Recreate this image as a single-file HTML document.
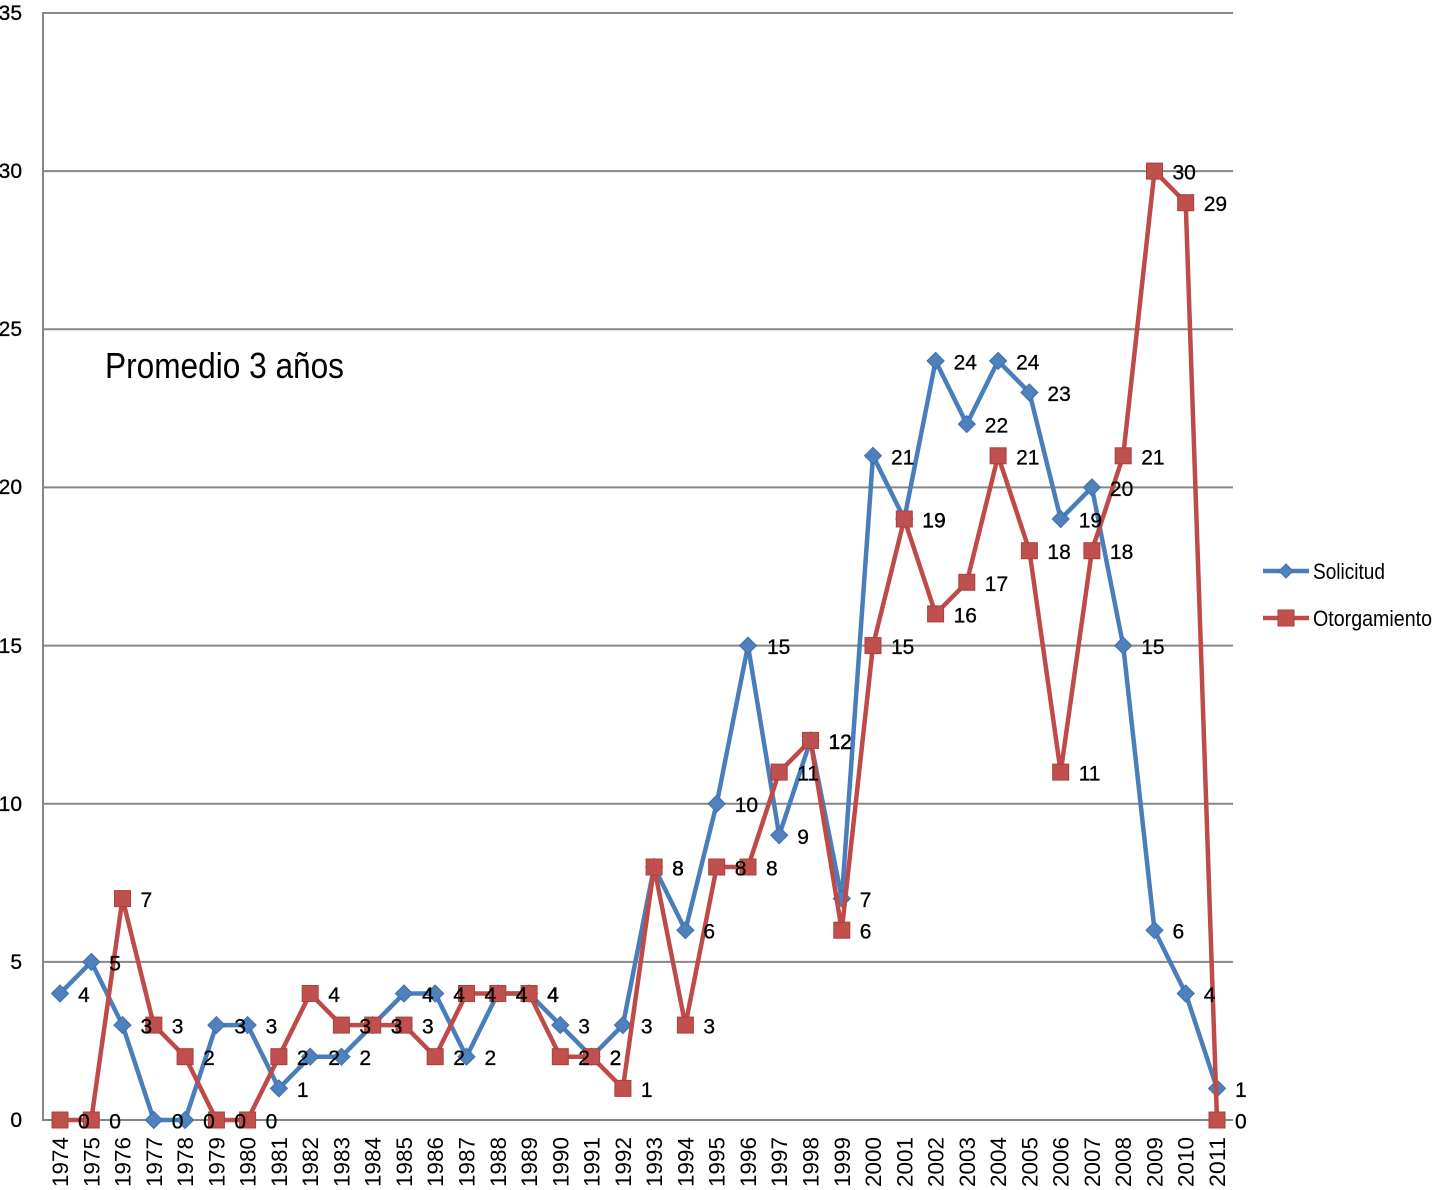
<!DOCTYPE html>
<html><head><meta charset="utf-8"><style>
html,body{margin:0;padding:0;background:#fff;}
svg{display:block;}
text{font-family:"Liberation Sans",Arial,sans-serif;fill:#000;}
.lb text{stroke:#000;stroke-width:0.3;}
</style></head><body>
<svg width="1435" height="1190" viewBox="0 0 1435 1190" xmlns="http://www.w3.org/2000/svg">
<defs>
<marker id="dm" markerUnits="userSpaceOnUse" markerWidth="20" markerHeight="20" refX="10" refY="10" viewBox="0 0 20 20" overflow="visible">
<path d="M10,1.5 L18.5,10 L10,18.5 L1.5,10 Z" fill="#4f81bd" stroke="#3d6fae" stroke-width="1"/>
</marker>
<marker id="sm" markerUnits="userSpaceOnUse" markerWidth="20" markerHeight="20" refX="10" refY="10" viewBox="0 0 20 20" overflow="visible">
<rect x="2" y="2" width="16" height="16" fill="#c0504d" stroke="#a8403d" stroke-width="1"/>
</marker>
</defs>
<rect width="1435" height="1190" fill="#fff"/>
<!-- gridlines -->
<g stroke="#878787" stroke-width="2">
<line x1="43" y1="13" x2="1233" y2="13"/>
<line x1="43" y1="171.1" x2="1233" y2="171.1"/>
<line x1="43" y1="329.3" x2="1233" y2="329.3"/>
<line x1="43" y1="487.4" x2="1233" y2="487.4"/>
<line x1="43" y1="645.6" x2="1233" y2="645.6"/>
<line x1="43" y1="803.7" x2="1233" y2="803.7"/>
<line x1="43" y1="961.9" x2="1233" y2="961.9"/>
<line x1="43" y1="1120" x2="1233" y2="1120"/>
<line x1="43" y1="12" x2="43" y2="1121"/>
</g>
<!-- y labels -->
<g font-size="21" text-anchor="end" class="lb">
<text x="22" y="20">35</text>
<text x="22" y="178">30</text>
<text x="22" y="336">25</text>
<text x="22" y="494">20</text>
<text x="22" y="653">15</text>
<text x="22" y="811">10</text>
<text x="22" y="969">5</text>
<text x="22" y="1127">0</text>
</g>
<!-- x labels -->
<g font-size="22" text-anchor="end">
<text transform="translate(68,1137) rotate(-90)" textLength="50" lengthAdjust="spacingAndGlyphs">1974</text>
<text transform="translate(99.3,1137) rotate(-90)" textLength="50" lengthAdjust="spacingAndGlyphs">1975</text>
<text transform="translate(130.5,1137) rotate(-90)" textLength="50" lengthAdjust="spacingAndGlyphs">1976</text>
<text transform="translate(161.8,1137) rotate(-90)" textLength="50" lengthAdjust="spacingAndGlyphs">1977</text>
<text transform="translate(193.1,1137) rotate(-90)" textLength="50" lengthAdjust="spacingAndGlyphs">1978</text>
<text transform="translate(224.4,1137) rotate(-90)" textLength="50" lengthAdjust="spacingAndGlyphs">1979</text>
<text transform="translate(255.6,1137) rotate(-90)" textLength="50" lengthAdjust="spacingAndGlyphs">1980</text>
<text transform="translate(286.9,1137) rotate(-90)" textLength="50" lengthAdjust="spacingAndGlyphs">1981</text>
<text transform="translate(318.2,1137) rotate(-90)" textLength="50" lengthAdjust="spacingAndGlyphs">1982</text>
<text transform="translate(349.4,1137) rotate(-90)" textLength="50" lengthAdjust="spacingAndGlyphs">1983</text>
<text transform="translate(380.7,1137) rotate(-90)" textLength="50" lengthAdjust="spacingAndGlyphs">1984</text>
<text transform="translate(412,1137) rotate(-90)" textLength="50" lengthAdjust="spacingAndGlyphs">1985</text>
<text transform="translate(443.2,1137) rotate(-90)" textLength="50" lengthAdjust="spacingAndGlyphs">1986</text>
<text transform="translate(474.5,1137) rotate(-90)" textLength="50" lengthAdjust="spacingAndGlyphs">1987</text>
<text transform="translate(505.8,1137) rotate(-90)" textLength="50" lengthAdjust="spacingAndGlyphs">1988</text>
<text transform="translate(537.1,1137) rotate(-90)" textLength="50" lengthAdjust="spacingAndGlyphs">1989</text>
<text transform="translate(568.3,1137) rotate(-90)" textLength="50" lengthAdjust="spacingAndGlyphs">1990</text>
<text transform="translate(599.6,1137) rotate(-90)" textLength="50" lengthAdjust="spacingAndGlyphs">1991</text>
<text transform="translate(630.9,1137) rotate(-90)" textLength="50" lengthAdjust="spacingAndGlyphs">1992</text>
<text transform="translate(662.1,1137) rotate(-90)" textLength="50" lengthAdjust="spacingAndGlyphs">1993</text>
<text transform="translate(693.4,1137) rotate(-90)" textLength="50" lengthAdjust="spacingAndGlyphs">1994</text>
<text transform="translate(724.7,1137) rotate(-90)" textLength="50" lengthAdjust="spacingAndGlyphs">1995</text>
<text transform="translate(756,1137) rotate(-90)" textLength="50" lengthAdjust="spacingAndGlyphs">1996</text>
<text transform="translate(787.2,1137) rotate(-90)" textLength="50" lengthAdjust="spacingAndGlyphs">1997</text>
<text transform="translate(818.5,1137) rotate(-90)" textLength="50" lengthAdjust="spacingAndGlyphs">1998</text>
<text transform="translate(849.8,1137) rotate(-90)" textLength="50" lengthAdjust="spacingAndGlyphs">1999</text>
<text transform="translate(881,1137) rotate(-90)" textLength="50" lengthAdjust="spacingAndGlyphs">2000</text>
<text transform="translate(912.3,1137) rotate(-90)" textLength="50" lengthAdjust="spacingAndGlyphs">2001</text>
<text transform="translate(943.6,1137) rotate(-90)" textLength="50" lengthAdjust="spacingAndGlyphs">2002</text>
<text transform="translate(974.8,1137) rotate(-90)" textLength="50" lengthAdjust="spacingAndGlyphs">2003</text>
<text transform="translate(1006.1,1137) rotate(-90)" textLength="50" lengthAdjust="spacingAndGlyphs">2004</text>
<text transform="translate(1037.4,1137) rotate(-90)" textLength="50" lengthAdjust="spacingAndGlyphs">2005</text>
<text transform="translate(1068.7,1137) rotate(-90)" textLength="50" lengthAdjust="spacingAndGlyphs">2006</text>
<text transform="translate(1099.9,1137) rotate(-90)" textLength="50" lengthAdjust="spacingAndGlyphs">2007</text>
<text transform="translate(1131.2,1137) rotate(-90)" textLength="50" lengthAdjust="spacingAndGlyphs">2008</text>
<text transform="translate(1162.5,1137) rotate(-90)" textLength="50" lengthAdjust="spacingAndGlyphs">2009</text>
<text transform="translate(1193.7,1137) rotate(-90)" textLength="50" lengthAdjust="spacingAndGlyphs">2010</text>
<text transform="translate(1225,1137) rotate(-90)" textLength="50" lengthAdjust="spacingAndGlyphs">2011</text>
</g>
<!-- Solicitud series -->
<polyline fill="none" stroke="#4a7ebb" stroke-width="4.5" stroke-linejoin="round" marker-start="url(#dm)" marker-mid="url(#dm)" marker-end="url(#dm)"
points="60,993.5 91.3,961.9 122.5,1025.1 153.8,1120 185.1,1120 216.4,1025.1 247.6,1025.1 278.9,1088.4 310.2,1056.7 341.4,1056.7 372.7,1025.1 404,993.5 435.2,993.5 466.5,1056.7 497.8,993.5 529.1,993.5 560.3,1025.1 591.6,1056.7 622.9,1025.1 654.1,867 685.4,930.2 716.7,803.7 748,645.6 779.2,835.3 810.5,740.4 841.8,898.6 873,455.8 904.3,519 935.6,360.9 966.8,424.1 998.1,360.9 1029.4,392.5 1060.7,519 1091.9,487.4 1123.2,645.6 1154.5,930.2 1185.7,993.5 1217,1088.4"/>
<!-- Otorgamiento series -->
<polyline fill="none" stroke="#be4b48" stroke-width="4.5" stroke-linejoin="round" marker-start="url(#sm)" marker-mid="url(#sm)" marker-end="url(#sm)"
points="60,1120 91.3,1120 122.5,898.6 153.8,1025.1 185.1,1056.7 216.4,1120 247.6,1120 278.9,1056.7 310.2,993.5 341.4,1025.1 372.7,1025.1 404,1025.1 435.2,1056.7 466.5,993.5 497.8,993.5 529.1,993.5 560.3,1056.7 591.6,1056.7 622.9,1088.4 654.1,867 685.4,1025.1 716.7,867 748,867 779.2,772.1 810.5,740.4 841.8,930.2 873,645.6 904.3,519 935.6,613.9 966.8,582.3 998.1,455.8 1029.4,550.7 1060.7,772.1 1091.9,550.7 1123.2,455.8 1154.5,171.1 1185.7,202.7 1217,1120"/>
<!-- Solicitud labels -->
<g font-size="21" class="lb">
<text x="78" y="1002">4</text>
<text x="109.3" y="970.4">5</text>
<text x="140.5" y="1033.6">3</text>
<text x="171.8" y="1128.5">0</text>
<text x="203.1" y="1128.5">0</text>
<text x="234.4" y="1033.6">3</text>
<text x="265.6" y="1033.6">3</text>
<text x="296.9" y="1096.9">1</text>
<text x="328.2" y="1065.2">2</text>
<text x="359.4" y="1065.2">2</text>
<text x="390.7" y="1033.6">3</text>
<text x="422" y="1002">4</text>
<text x="453.2" y="1002">4</text>
<text x="484.5" y="1065.2">2</text>
<text x="515.8" y="1002">4</text>
<text x="547.1" y="1002">4</text>
<text x="578.3" y="1033.6">3</text>
<text x="609.6" y="1065.2">2</text>
<text x="640.9" y="1033.6">3</text>
<text x="672.1" y="875.5">8</text>
<text x="703.4" y="938.7">6</text>
<text x="734.7" y="812.2">10</text>
<text x="767" y="654.1">15</text>
<text x="797.2" y="843.8">9</text>
<text x="828.5" y="748.9">12</text>
<text x="859.8" y="907.1">7</text>
<text x="891" y="464.3">21</text>
<text x="922.3" y="527.5">19</text>
<text x="953.6" y="369.4">24</text>
<text x="984.8" y="432.6">22</text>
<text x="1016.1" y="369.4">24</text>
<text x="1047.4" y="401">23</text>
<text x="1078.7" y="527.5">19</text>
<text x="1109.9" y="495.9">20</text>
<text x="1141.2" y="654.1">15</text>
<text x="1172.5" y="938.7">6</text>
<text x="1203.7" y="1002">4</text>
<text x="1235" y="1096.9">1</text>
</g>
<!-- Otorgamiento labels -->
<g font-size="21" class="lb">
<text x="78" y="1128.5">0</text>
<text x="109.3" y="1128.5">0</text>
<text x="140.5" y="907.1">7</text>
<text x="171.8" y="1033.6">3</text>
<text x="203.1" y="1065.2">2</text>
<text x="234.4" y="1128.5">0</text>
<text x="265.6" y="1128.5">0</text>
<text x="296.9" y="1065.2">2</text>
<text x="328.2" y="1002">4</text>
<text x="359.4" y="1033.6">3</text>
<text x="390.7" y="1033.6">3</text>
<text x="422" y="1033.6">3</text>
<text x="453.2" y="1065.2">2</text>
<text x="484.5" y="1002">4</text>
<text x="515.8" y="1002">4</text>
<text x="547.1" y="1002">4</text>
<text x="578.3" y="1065.2">2</text>
<text x="609.6" y="1065.2">2</text>
<text x="640.9" y="1096.9">1</text>
<text x="672.1" y="875.5">8</text>
<text x="703.4" y="1033.6">3</text>
<text x="734.7" y="875.5">8</text>
<text x="766" y="875.5">8</text>
<text x="797.2" y="780.6">11</text>
<text x="828.5" y="748.9">12</text>
<text x="859.8" y="938.7">6</text>
<text x="891" y="654.1">15</text>
<text x="922.3" y="527.5">19</text>
<text x="953.6" y="622.4">16</text>
<text x="984.8" y="590.8">17</text>
<text x="1016.1" y="464.3">21</text>
<text x="1047.4" y="559.2">18</text>
<text x="1078.7" y="780.6">11</text>
<text x="1109.9" y="559.2">18</text>
<text x="1141.2" y="464.3">21</text>
<text x="1172.5" y="179.6">30</text>
<text x="1203.7" y="211.2">29</text>
<text x="1235" y="1128.5">0</text>
</g>
<!-- title -->
<text x="105" y="378" font-size="36" textLength="239" lengthAdjust="spacingAndGlyphs">Promedio 3 años</text>
<!-- legend -->
<line x1="1263" y1="571" x2="1309" y2="571" stroke="#4a7ebb" stroke-width="4.5"/>
<path d="M1286,564 L1293,571 L1286,578 L1279,571 Z" fill="#4f81bd" stroke="#3d6fae" stroke-width="1"/>
<text x="1313" y="579" font-size="22" textLength="72" lengthAdjust="spacingAndGlyphs">Solicitud</text>
<line x1="1263" y1="618" x2="1309" y2="618" stroke="#be4b48" stroke-width="4.5"/>
<rect x="1278" y="610" width="16" height="16" fill="#c0504d" stroke="#a8403d" stroke-width="1"/>
<text x="1313" y="626" font-size="22" textLength="119" lengthAdjust="spacingAndGlyphs">Otorgamiento</text>
</svg>
</body></html>
